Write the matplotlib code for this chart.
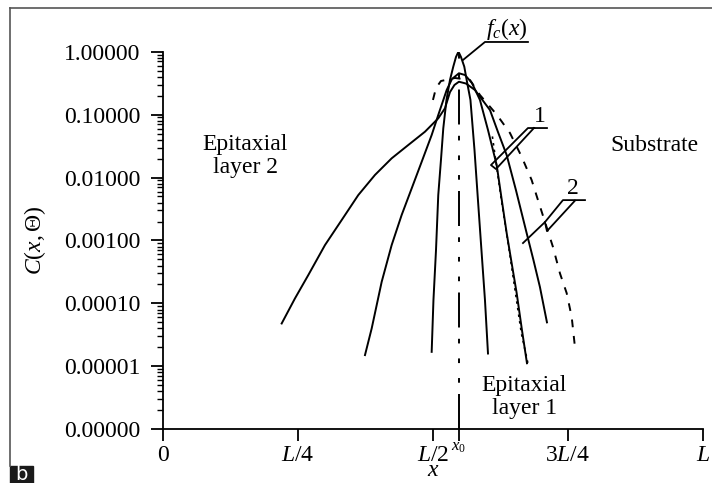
import numpy as np
import matplotlib
matplotlib.use("Agg")
import matplotlib.pyplot as plt
from matplotlib.lines import Line2D
from matplotlib.patches import Rectangle

plt.rcParams['font.family'] = ['Liberation Serif', 'DejaVu Serif']
plt.rcParams['mathtext.fontset'] = 'custom'
plt.rcParams['mathtext.rm'] = 'Liberation Serif'
plt.rcParams['mathtext.it'] = 'Liberation Serif:italic'

# DATA (x in units of L)
x0 = 0.548

# f_c(x) - narrow profile
fc_x = [0.4976, 0.5009, 0.5056, 0.5098, 0.5148, 0.5191, 0.5250, 0.5315,
        0.5376, 0.5426, 0.5472, 0.5519, 0.5580, 0.5624, 0.5694, 0.5769,
        0.5833, 0.5898, 0.5963, 0.6019]
fc_y = [1.7e-5, 1.13e-4, 6.97e-4, 5.27e-3, 1.9e-2, 6.05e-2, 0.171, 0.355,
        0.578, 0.823, 1.0, 0.823, 0.578, 0.355, 0.171, 0.0274,
        4.4e-3, 7.0e-4, 1.13e-4, 1.6e-5]

# curve 1
c1_x = [0.3741, 0.3865, 0.4050, 0.4235, 0.4420, 0.4606, 0.4791, 0.4976,
        0.5098, 0.5254, 0.5352, 0.5481, 0.5593, 0.5722, 0.5870, 0.6019,
        0.6180, 0.6269, 0.6365, 0.6454, 0.6550, 0.6648, 0.6741]
c1_y = [1.51e-5, 4.0e-5, 2.2e-4, 8.45e-4, 2.54e-3, 6.73e-3, 1.78e-2, 4.74e-2,
        9.86e-2, 0.246, 0.368, 0.454, 0.426, 0.318, 0.171, 0.0569,
        0.0158, 4.72e-3, 1.31e-3, 4.54e-4, 1.46e-4, 3.77e-5, 1.12e-5]

# dotted companion of curve 1 (right branch)
c1d_x = [0.6100, 0.6265, 0.6389, 0.6513, 0.6636, 0.6760]
c1d_y = [0.045, 4.5e-3, 9.5e-4, 1.8e-4, 3.4e-5, 1.1e-5]

# curve 2 - widest
c2_x = [0.2198, 0.2444, 0.2691, 0.3000, 0.3309, 0.3617, 0.3926, 0.4235,
        0.4543, 0.4852, 0.5098, 0.5222, 0.5315, 0.5398, 0.5481, 0.5611,
        0.5778, 0.6056, 0.6204, 0.6365, 0.6537, 0.6735, 0.6861, 0.6981,
        0.7111]
c2_y = [4.8e-5, 1.2e-4, 2.82e-4, 8.45e-4, 2.11e-3, 5.27e-3, 1.1e-2, 2.02e-2,
        3.29e-2, 5.35e-2, 8.73e-2, 0.126, 0.228, 0.296, 0.333, 0.312,
        0.246, 0.118, 0.0529, 0.0228, 6.3e-3, 1.31e-3, 4.88e-4, 1.82e-4,
        5.0e-5]

# dashed profile
cd_x = [0.5000, 0.5056, 0.5148, 0.5407, 0.5685, 0.5870, 0.6185, 0.6426,
        0.6643, 0.6828, 0.6944, 0.7222, 0.7352, 0.7476, 0.7569, 0.7630]
cd_y = [0.171, 0.265, 0.342, 0.382, 0.355, 0.205, 0.099, 0.051,
        0.0214, 9.1e-3, 4.4e-3, 7.9e-4, 3.0e-4, 1.46e-4, 6.1e-5, 2.0e-5]

xticks = [0, 0.25, 0.5, x0, 0.75, 1.0]
xlabels = ['$0$', '$L/4$', '$L/2$', '', '$3L/4$', '$L$']
yticks = [1e-6, 1e-5, 1e-4, 1e-3, 1e-2, 1e-1, 1e0]
ylabels = ['0.00000', '0.00001', '0.00010', '0.00100', '0.01000', '0.10000', '1.00000']

fig = plt.figure(figsize=(7.12, 4.83), dpi=100)
ax = fig.add_axes([0.2289, 0.1112, 0.7584, 0.7818])

lw = 1.4
ax.plot(fc_x, fc_y, color='black', lw=lw)
ax.plot(c1_x, c1_y, color='black', lw=lw)
ax.plot(c1d_x, c1d_y, color='black', lw=1.2, dashes=(1.5, 2.5))
ax.plot(c2_x, c2_y, color='black', lw=lw)
ax.plot(cd_x, cd_y, color='black', lw=lw, dashes=(4, 4.5))
ax.plot([x0, x0], [1e-6, 1.48], color='black', lw=lw, clip_on=False,
        dashes=(18, 5.8, 2.4, 7.7, 2.4, 7.7, 2.4, 5.8))

ax.set_yscale('log')
ax.set_ylim(1e-6, 1)
ax.set_xlim(0, 1)
ax.spines['top'].set_visible(False)
ax.spines['right'].set_visible(False)
for s in ['left', 'bottom']:
    ax.spines[s].set_linewidth(1.3)

ax.set_yticks(yticks)
ax.set_yticklabels(ylabels)
ax.set_xticks(xticks)
ax.set_xticklabels(xlabels)
ax.tick_params(axis='both', which='major', labelsize=17, width=1.3, length=8.5)
ax.tick_params(axis='y', which='major', pad=8)
ax.tick_params(axis='y', which='minor', width=1.0, length=4)
ax.tick_params(axis='x', pad=3)

ax.set_ylabel(r'$C(x,\Theta)$', fontsize=17, va='center')
ax.yaxis.set_label_coords(-0.237, 0.50)
ax.set_xlabel('$x$', fontsize=17, va='top')
ax.xaxis.set_label_coords(0.5, -0.081)

ax.text(x0, 5.2e-7, '$x_0$', fontsize=12, ha='center', va='center')

# region labels
ax.text(0.152, 0.724, 'Epitaxial\nlayer 2', transform=ax.transAxes, fontsize=17,
        ha='center', va='center', multialignment='center', linespacing=1.15)
ax.text(0.911, 0.752, 'Substrate', transform=ax.transAxes, fontsize=17,
        ha='center', va='center')
ax.text(0.669, 0.086, 'Epitaxial\nlayer 1', transform=ax.transAxes, fontsize=17,
        ha='center', va='center', multialignment='center', linespacing=1.15)

# leader for f_c(x)
ax.plot([0.5556, 0.5963, 0.6759], [0.738, 1.426, 1.426], color='black', lw=1.3,
        clip_on=False)
ax.text(0.636, 1.45, '$f_c(x)$', fontsize=17, ha='center', va='bottom')

# leader for 1
ax.plot([0.7111, 0.6759, 0.6074, 0.6167, 0.6870],
        [0.0612, 0.0612, 0.0158, 0.01365, 0.0612], color='black', lw=1.3)
ax.text(0.698, 0.064, '1', fontsize=17, ha='center', va='bottom')

# leader for 2
ax.plot([0.6667, 0.7074, 0.7407, 0.7815], [9.1e-4, 1.96e-3, 4.38e-3, 4.38e-3],
        color='black', lw=1.3)
ax.plot([0.7074, 0.7111, 0.7630], [1.96e-3, 1.41e-3, 4.3e-3], color='black', lw=1.3)
ax.text(0.759, 4.6e-3, '2', fontsize=17, ha='center', va='bottom')

# frame and panel tag
fig.add_artist(Line2D([10/712, 10/712], [1 - 466/483, 1 - 8/483], color='#555555', lw=1.2))
fig.add_artist(Line2D([10/712, 1.0], [1 - 8/483, 1 - 8/483], color='#555555', lw=1.2))
fig.add_artist(Rectangle((10/712, 0), 23/712, 17/483, color='#1a1a1a',
                         transform=fig.transFigure))
fig.text(21.5/712, 8/483, 'b', color='white', fontsize=14, ha='center', va='center',
         family='DejaVu Sans')

fig.savefig('out.png', dpi=100)
